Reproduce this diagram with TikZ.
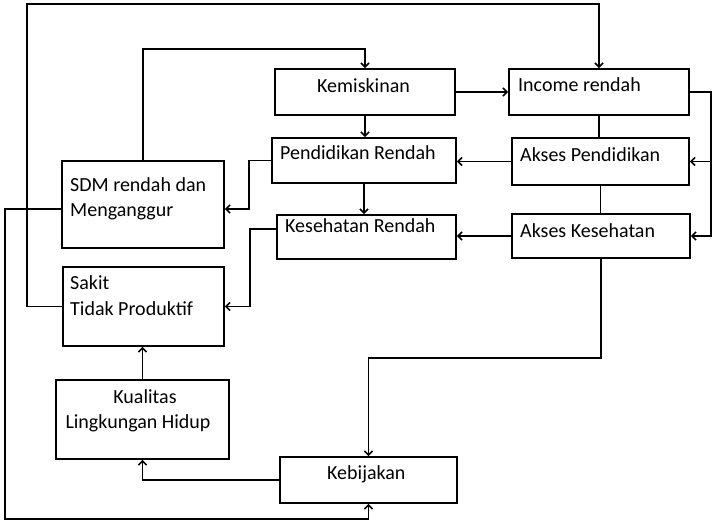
\documentclass[tikz,border=0pt]{standalone}
\usepackage{fontspec}
\setmainfont{Carlito}
\usetikzlibrary{arrows.meta}
\begin{document}
\begin{tikzpicture}[x=1pt,y=-1pt,
  box/.style={draw, line width=1.8pt, rectangle, inner sep=0pt},
  txt/.style={anchor=base west, inner sep=0pt, font=\fontsize{20}{25}\selectfont},
  conn/.style={line width=1.8pt},
  thinconn/.style={line width=1.2pt},
  arr/.style={conn, -{Straight Barb[length=4pt,width=8pt,line width=1.6pt]}},
]
\useasboundingbox (0,0) rectangle (713,532);

% boxes
\node[box, minimum width=180pt, minimum height=46pt] (kem)   at (365,92)    {};
\node[box, minimum width=180pt, minimum height=46pt] (inc)   at (599,92)    {};
\node[box, minimum width=184pt, minimum height=45pt] (pr)    at (364,160.5) {};
\node[box, minimum width=177pt, minimum height=47pt] (ap)    at (600.5,161.5) {};
\node[box, minimum width=179pt, minimum height=44pt] (kr)    at (366.5,237) {};
\node[box, minimum width=178pt, minimum height=44pt] (ak)    at (601,236)   {};
\node[box, minimum width=162pt, minimum height=87pt] (sdm)   at (143,204.5) {};
\node[box, minimum width=161pt, minimum height=79pt] (sakit) at (143.5,306.5) {};
\node[box, minimum width=173pt, minimum height=79pt] (kual)  at (142.5,419.5) {};
\node[box, minimum width=177pt, minimum height=46pt] (keb)   at (368.5,480) {};

% labels
\node[txt] (kemT)   at (317,93)  {Kemiskinan};
\node[txt] (incT)   at (518,92)  {Income rendah};
\node[txt] (prT)    at (280,160) {Pendidikan Rendah};
\node[txt] (apT)    at (520,162) {Akses Pendidikan};
\node[txt] (krT)    at (285,233) {Kesehatan Rendah};
\node[txt] (akT)    at (520,237) {Akses Kesehatan};
\node[txt] (sdmT1)  at (70,192)  {SDM rendah dan};
\node[txt] (sdmT2)  at (70,217)  {Menganggur};
\node[txt] (sakT1)  at (70,290)  {Sakit};
\node[txt] (sakT2)  at (70,315)  {Tidak Produktif};
\node[txt, anchor=base] (kuaT1) at (145,403) {Kualitas};
\node[txt, anchor=base] (kuaT2) at (138,428) {Lingkungan Hidup};
\node[txt] (kebT)   at (327,479) {Kebijakan};

% bend points
\coordinate (tl)  at (27,4);
\coordinate (k49) at (143,49);
\coordinate (rx)  at (711,92);
\coordinate (bl)  at (5,519);

% connectors
\draw[arr] (sakit.west) -| (tl) -| (inc.north);
\draw[arr] (sdm.north) -- (k49) -| (kem.north);
\draw[arr] (kem.east) -- (inc.west);
\draw[arr] (kem.south) -- (kem.south |- pr.north);
\draw[arr] (pr.south) -- (pr.south |- kr.north);
\draw[thinconn] (inc.south) -- (inc.south |- ap.north);
\draw[thinconn] (ap.south) -- (ap.south |- ak.north);
\draw[arr] (ak.south) -- ++(0,99) -| (keb.north);
\draw[arr] (inc.east) -- (rx) |- (ak.east);
\draw[arr] (rx |- ap.east) -- (ap.east);
\draw[arr] (ap.west) -- (ap.west -| pr.east);
\draw[arr] (ak.west) -- (ak.west -| kr.east);
\draw[arr] (pr.west) -- ++(-22,0) |- ([yshift=-4.5pt]sdm.east);
\draw[arr] ([yshift=8pt]kr.west) -- ++(-26,0) |- (sakit.east);
\draw[arr] ([yshift=-4.5pt]sdm.west) -| (bl) -| (keb.south);
\draw[arr] (keb.west) -| (kual.south);
\draw[arr] (kual.north) -- (kual.north |- sakit.south);
\end{tikzpicture}
\end{document}
